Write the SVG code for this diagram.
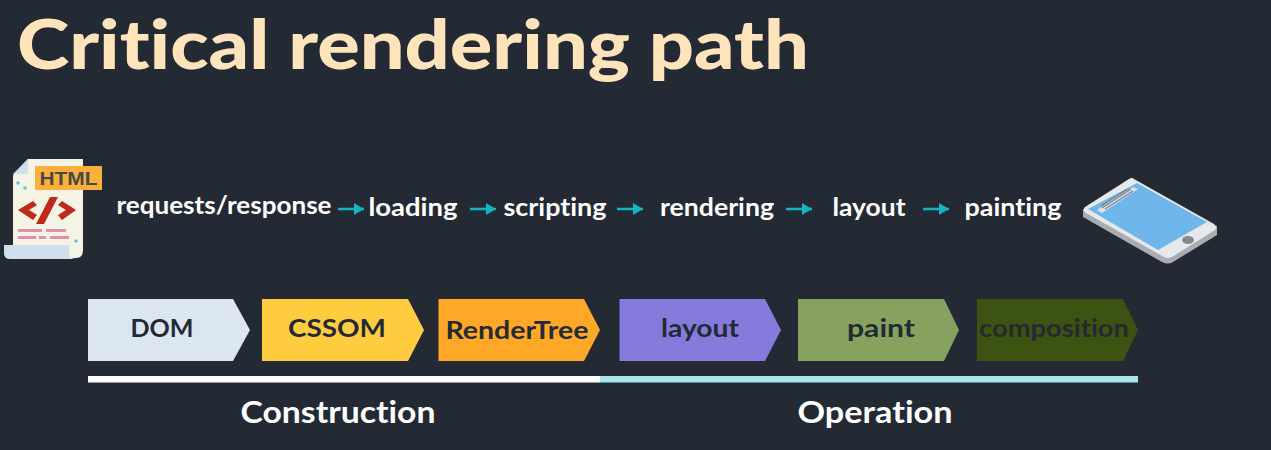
<svg xmlns="http://www.w3.org/2000/svg" width="1271" height="450" viewBox="0 0 1271 450">
<style>
text{font-family:"Lato","Liberation Sans",sans-serif;font-weight:700;font-variant-ligatures:none}
.title{font-size:68px;fill:#ffe3bb;font-weight:900}
.step{font-size:24px;fill:#fff;text-anchor:middle}
.lbl{font-size:25px;fill:#232a33;text-anchor:middle}
.sec{font-size:30px;fill:#fff;text-anchor:middle}
.arr{stroke:#14b5c0;stroke-width:2.500;fill:none;marker-end:url(#ah)}
</style>
<defs>
<marker id="ah" markerUnits="userSpaceOnUse" markerWidth="12" markerHeight="14" refX="11" refY="7" orient="auto"><path d="M1 1L11 7L1 13Z" fill="#14b5c0"/></marker>
</defs>
<rect width="1271" height="450" fill="#232a33"/>
<text class="title" x="17" y="69" textLength="792" lengthAdjust="spacingAndGlyphs">Critical rendering path</text>

<g id="html-icon">
<path d="M28 159H83V250Q83 258 76 258H13V175Z" fill="#f5f3e3"/>
<path d="M28 159V174H13Z" fill="#d0dfec"/>
<path d="M4 245H69V252Q69 259 76 259H10Q4 259 4 253Z" fill="#d0dfec"/>
<rect x="35" y="166" width="67" height="24" fill="#fbb03b"/>
<text x="68.500" y="185" font-size="19" fill="#4a4a48" text-anchor="middle" style="font-family:'Liberation Sans',sans-serif" textLength="58" lengthAdjust="spacingAndGlyphs">HTML</text>
<path d="M33 201L18 210L33 220L37 215L29 210L37 205Z" fill="#c0281c"/>
<path d="M62 201L76 210L62 220L58 215L66 210L58 205Z" fill="#c0281c"/>
<path d="M50 197H58L44 224H36Z" fill="#c0281c"/>
<path d="M18 229H42V232H18ZM46 229H66V232H46ZM18 236H36V239H18ZM39 236H46V239H39ZM50 236H69V239H50Z" fill="#e58fb0"/>
<circle cx="18" cy="183" r="1.800" fill="#5dc4d8"/><circle cx="25" cy="188" r="1.800" fill="#5dc4d8"/><circle cx="76" cy="241" r="1.800" fill="#5dc4d8"/>
</g>

<g id="phone-icon">
<path d="M1083 209L1083 217L1162 262Q1168 265 1173 262L1217 235L1217 226Z" fill="#a9adb1"/>
<path d="M1134 179Q1132 177 1129 179L1085 207Q1082 210 1086 213L1164 257Q1168 259 1172 257L1215 230Q1218 227 1214 224Z" fill="#e6e8ea"/>
<path d="M1088 209L1137 183L1207 222L1158 250Z" fill="#6fb7ea"/>
<path d="M1097 210L1133 187L1138 189L1102 213Z" fill="#dfe1e3"/>
<path d="M1102 208L1131 189M1101 206L1127 189M1105 209L1133 191" stroke="#7c8186" stroke-width="1.200"/>
<ellipse cx="1188" cy="240" rx="6" ry="4" fill="#85898d"/>
</g>

<g id="step-requests"><text class="step" x="224" y="214" textLength="215" lengthAdjust="spacingAndGlyphs">requests/response</text></g>
<g id="step-loading"><text class="step" x="413" y="216" textLength="89" lengthAdjust="spacingAndGlyphs">loading</text></g>
<g id="step-scripting"><text class="step" x="555" y="216" textLength="103" lengthAdjust="spacingAndGlyphs">scripting</text></g>
<g id="step-rendering"><text class="step" x="717" y="216" textLength="114" lengthAdjust="spacingAndGlyphs">rendering</text></g>
<g id="step-layout"><text class="step" x="869" y="216" textLength="73" lengthAdjust="spacingAndGlyphs">layout</text></g>
<g id="step-painting"><text class="step" x="1013" y="216" textLength="97" lengthAdjust="spacingAndGlyphs">painting</text></g>

<g id="connectors">
<path class="arr" d="M338 209H364"/>
<path class="arr" d="M470 209H496"/>
<path class="arr" d="M617 209H643"/>
<path class="arr" d="M786 209H812"/>
<path class="arr" d="M923 209H949"/>
</g>

<g id="dom"><path d="M88 299H233L250 330L233 361H88Z" fill="#dce6f3"/><text class="lbl" x="162" y="337" textLength="63" lengthAdjust="spacingAndGlyphs">DOM</text></g>
<g id="cssom"><path d="M262 299H408L424 330L408 361H262Z" fill="#ffcc40"/><text class="lbl" x="337" y="337" textLength="98" lengthAdjust="spacingAndGlyphs">CSSOM</text></g>
<g id="rendertree"><path d="M438.500 299H584L600 330L584 361H438.500Z" fill="#ffa726"/><text class="lbl" x="517" y="339" textLength="143" lengthAdjust="spacingAndGlyphs">RenderTree</text></g>
<g id="layout"><path d="M619.500 299H765L781 330L765 361H619.500Z" fill="#847bdd"/><text class="lbl" x="700" y="337" textLength="78" lengthAdjust="spacingAndGlyphs">layout</text></g>
<g id="paint"><path d="M798 299H944L959 330L944 361H798Z" fill="#87a25f"/><text class="lbl" x="881" y="337" textLength="68" lengthAdjust="spacingAndGlyphs">paint</text></g>
<g id="composition"><path d="M977 299H1123L1138 330L1123 361H977Z" fill="#3c5311"/><text class="lbl" x="1054" y="337" textLength="150" lengthAdjust="spacingAndGlyphs">composition</text></g>

<rect x="88" y="376" width="512" height="6.500" fill="#fff"/>
<rect x="600" y="376" width="538" height="6.500" fill="#a8e8ea"/>
<text class="sec" x="338" y="423" textLength="195" lengthAdjust="spacingAndGlyphs">Construction</text>
<text class="sec" x="875" y="423" textLength="155" lengthAdjust="spacingAndGlyphs">Operation</text>
</svg>
